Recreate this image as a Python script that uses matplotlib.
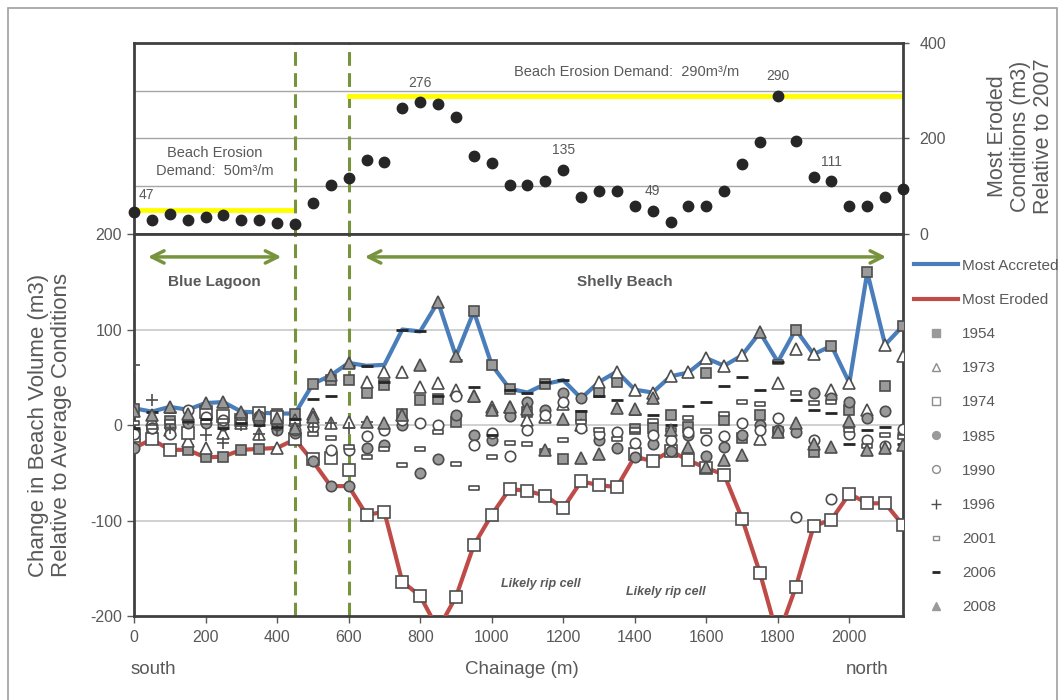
import numpy as np
import matplotlib
matplotlib.use("Agg")
import matplotlib.pyplot as plt
from matplotlib.path import Path
from matplotlib.lines import Line2D
from matplotlib.patches import Rectangle

plt.rcParams['font.family'] = ['Liberation Sans', 'DejaVu Sans']
plt.rcParams['axes.unicode_minus'] = False

# chainage stations (m), every 50 m from south to north
chainage = list(range(0, 2151, 50))

# top panel: most eroded conditions relative to 2007 (m3/m)
most_eroded_2007 = [47, 29, 41, 29, 36, 40, 29, 29, 24, 22,
                    64, 102, 117, 155, 150, 264, 276, 272, 244, 163,
                    148, 102, 102, 112, 135, 78, 90, 90, 59, 49,
                    26, 59, 59, 91, 146, 193, 290, 195, 120, 111,
                    59, 58, 78, 94]
label_points = [0, 800, 1200, 1450, 1800, 1950]
label_texts = ['47', '276', '135', '49', '290', '111']

# bottom panel: change relative to average conditions (m3/m)
most_accreted = [17.5, 14, 19, 16, 23, 24, 14, 13, 12, 12,
                 43, 52, 65, 62, 63, 100, 98, 129, 72, 119,
                 63, 38, 34, 43, 47, 28, 45, 56, 37, 34,
                 51, 55, 70, 62, 73, 97, 66, 100, 74, 83,
                 44, 160, 84, 104]
most_eroded = [-24, -15, -26, -26, -34, -33, -26, -25, -24, -15,
               -38, -64, -64, -94, -91, -164, -179, -214, -180, -126,
               -94, -67, -69, -74, -87, -59, -63, -65, -33, -38,
               -27, -37, -45, -52, -98, -155, -222, -170, -106, -99,
               -72, -82, -82, -105]

nan = np.nan
y1954 = [17, -5, 4, -26, -34, -33, -26, -25, 12, 12,
         43, 47, 47, 34, 42, 12, 26, 27, 3, 119,
         63, 38, 14, 43, -36, 9, 35, 45, -4, -3,
         10, -2, 54, 5, -14, 11, -7, 100, -28, 83,
         16, 160, 41, 104]
y1973 = [-9, 5, -5, -17, -24, -8, 2, -9, -24, 5,
         12, 2, 3, 45, 56, 55, 40, 44, 37, 30,
         19, 19, 5, 8, 22, 0, 45, 56, 37, 34,
         51, 55, 70, 62, 73, -15, 44, 80, 74, 37,
         44, 16, 84, 72]
y1974 = [-12, -15, -26, -8, 14, 9, 5, 13, 8, -15,
         -36, -35, -47, -94, -91, -164, -179, -214, -180, -126,
         -94, -67, -69, -74, -87, -59, -63, -65, -30, -38,
         -27, -37, -45, -52, -98, -155, -222, -170, -106, -99,
         -72, -82, -82, -105]
y1985 = [-24, -3, -2, 2, 2, 0, 9, 9, -5, -8,
         -38, -64, -64, -24, -21, 0, -50, -36, 10, -10,
         -16, 9, 24, 16, 33, 28, -16, -24, -33, -20,
         -27, -10, -32, -23, -10, 0, -5, -7, 34, 28,
         24, 7, 15, -8]
y1990 = [-9, -3, -9, 16, 8, 5, 9, 4, 0, -5,
         -2, -26, -26, -12, -5, 5, 2, 0, 30, -21,
         -8, -32, -5, 11, 24, -3, -9, -7, -19, -10,
         -16, -7, -16, -12, 2, -5, 7, -96, -16, -78,
         -9, -16, -22, -4]
y1996 = [63, 26, -3, 6, -10, -19, 0, -9, -4, 2,
         -2, 2, -3, 3, nan, nan, nan, nan, nan, nan,
         nan, nan, nan, nan, nan, nan, nan, nan, nan, nan,
         nan, nan, nan, nan, nan, nan, nan, nan, nan, nan,
         nan, nan, nan, nan]
y2001 = [2, -2, 3, 4, 3, 4, 3, 4, 2, 3,
         -9, -14, -23, -34, -25, -42, -25, -7, -41, -66,
         -33, -19, -20, -27, -16, 3, -5, -15, -5, 4,
         -5, 7, -6, 12, 24, 22, 66, 33, 23, 24,
         -5, -22, -10, -13]
y2006 = [-3, 14, 14, 4, 6, -3, 2, 0, -2, 6,
         27, 30, 62, 62, 45, 100, 98, 30, 68, 40,
         -10, 37, 34, 45, 47, 15, 30, 26, 12, 11,
         0, 20, 24, 41, 50, 37, 66, 26, 16, 13,
         -20, -5, -2, -20]
y2008 = [15, 10, 19, 12, 23, 24, 14, 10, 7, -3,
         8, 52, 65, 3, 2, 10, 63, 129, 72, 30,
         16, 19, 17, -26, 6, -35, -30, 18, 17, 28,
         -5, -23, -44, -37, -31, 97, -7, 2, -20, -23,
         4, -26, -24, -21]

years = ['1954', '1973', '1974', '1985', '1990', '1996', '2001', '2006', '2008']
year_values = [y1954, y1973, y1974, y1985, y1990, y1996, y2001, y2006, y2008]

# styling
GREY_TXT = '#595959'
EDGE = '#4d4d4d'
FILL = '#9a9a9a'
OLIVE = '#77933C'
BLUE = '#4A7EBB'
RED = '#BE4B48'
slab = Path([(-1, -0.45), (1, -0.45), (1, 0.45), (-1, 0.45), (-1, -0.45)],
            [Path.MOVETO, Path.LINETO, Path.LINETO, Path.LINETO, Path.CLOSEPOLY])
year_style = {
    '1954': dict(marker='s', ms=7.5, mfc=FILL, mec=EDGE),
    '1973': dict(marker='^', ms=8, mfc='white', mec=EDGE),
    '1974': dict(marker='s', ms=8, mfc='white', mec=EDGE),
    '1985': dict(marker='o', ms=7.5, mfc=FILL, mec=EDGE),
    '1990': dict(marker='o', ms=7.5, mfc='white', mec=EDGE),
    '1996': dict(marker='+', ms=9, mec=EDGE),
    '2001': dict(marker=slab, ms=6.5, mfc='white', mec=EDGE),
    '2006': dict(marker='_', ms=8, mec='#262626', mew=2),
    '2008': dict(marker='^', ms=8, mfc=FILL, mec=EDGE),
}

fig = plt.figure(figsize=(10.62, 7.0), dpi=100)
fig.patches.append(Rectangle((8 / 1062, -0.01), 1049 / 1062, 1.0 - 8 / 700 + 0.01,
                             transform=fig.transFigure, fill=False,
                             edgecolor='#a0a0a0', lw=1.2))

ax_top = fig.add_axes([0.1262, 0.6657, 0.7241, 0.2729])
ax_bot = fig.add_axes([0.1262, 0.12, 0.7241, 0.5457])

for ax in (ax_top, ax_bot):
    ax.set_xlim(0, 2150)
    for s in ax.spines.values():
        s.set_color('#404040')
        s.set_linewidth(2)
    for xv in (450, 600):
        ax.axvline(xv, color=OLIVE, lw=2.2, ls=(0, (4.5, 2.4)), zorder=1)

# ---- top panel
ax_top.set_ylim(0, 400)
for g in (100, 200, 300):
    ax_top.axhline(g, color='#a6a6a6', lw=1, zorder=0)
ax_top.set_xticks([])
ax_top.yaxis.tick_right()
ax_top.set_yticks([0, 200, 400])
ax_top.tick_params(axis='y', colors=GREY_TXT, labelsize=11.5, length=4, width=1, pad=8)
ax_top.plot([0, 440], [50, 50], color='#FFFF00', lw=3.5, zorder=2)
ax_top.plot([600, 2150], [290, 290], color='#FFFF00', lw=3.5, zorder=2)
ax_top.plot(chainage, most_eroded_2007, 'o', color='#262626', ms=7.5, zorder=4, clip_on=False)
for cx, t in zip(label_points, label_texts):
    yv = most_eroded_2007[chainage.index(cx)]
    offset = (9, 12) if cx == 0 else (0, 14)
    ax_top.annotate(t, (cx, yv), xytext=offset, textcoords='offset points',
                    ha='center', va='center', color=GREY_TXT, fontsize=10)
ax_top.text(226, 151, 'Beach Erosion\nDemand:  50m\u00b3/m', ha='center', va='center',
            color=GREY_TXT, fontsize=10.5, linespacing=1.3)
ax_top.text(1378, 339, 'Beach Erosion Demand:  290m\u00b3/m', ha='center', va='center',
            color=GREY_TXT, fontsize=10.5)

# ---- bottom panel
ax_bot.set_ylim(-200, 200)
for g in (-100, 0, 100):
    ax_bot.axhline(g, color='#c8c8c8', lw=1.2, zorder=0)
ax_bot.set_yticks([-200, -100, 0, 100, 200])
ax_bot.set_xticks(range(0, 2001, 200))
ax_bot.tick_params(colors=GREY_TXT, labelsize=11.5, length=5, width=1)
ax_bot.tick_params(axis='x', pad=5)

ax_bot.plot(chainage, most_accreted, color=BLUE, lw=3, zorder=3)
ax_bot.plot(chainage, most_eroded, color=RED, lw=3, zorder=3)
for yr, vals in zip(years, year_values):
    st = dict(year_style[yr])
    st.setdefault('mew', 1.2)
    ax_bot.plot(chainage, vals, ls='none', zorder=4, **st)

arrow = dict(arrowstyle='<->', color=OLIVE, lw=2.5, mutation_scale=22, shrinkA=0, shrinkB=0)
ax_bot.annotate('', xy=(412, 176), xytext=(39, 176), arrowprops=arrow)
ax_bot.annotate('', xy=(2103, 176), xytext=(645, 176), arrowprops=arrow)
ax_bot.text(225, 150, 'Blue Lagoon', ha='center', va='center', color=GREY_TXT,
            fontsize=11, fontweight='bold')
ax_bot.text(1372, 150, 'Shelly Beach', ha='center', va='center', color=GREY_TXT,
            fontsize=11, fontweight='bold')
ax_bot.text(1138, -167, 'Likely rip cell', ha='center', va='center', color=GREY_TXT,
            fontsize=9, fontweight='bold', style='italic')
ax_bot.text(1487, -175, 'Likely rip cell', ha='center', va='center', color=GREY_TXT,
            fontsize=9, fontweight='bold', style='italic')

# legend
handles = [Line2D([], [], color=BLUE, lw=3, label='Most Accreted'),
           Line2D([], [], color=RED, lw=3, label='Most Eroded')]
for yr in years:
    st = dict(year_style[yr])
    st['ms'] = st['ms'] * 0.75
    st.setdefault('mew', 1.0)
    if yr in ('1973', '1974', '1990', '2001'):
        st['mec'] = '#8c8c8c'
    if yr in ('1954', '1985', '2008'):
        st['mec'] = FILL
    handles.append(Line2D([], [], ls='none', label=yr, **st))
fig.legend(handles=handles, loc='upper left', bbox_to_anchor=(0.855, 0.639),
           frameon=False, fontsize=11, labelspacing=1.32, handlelength=2.9,
           handletextpad=0.25, labelcolor=GREY_TXT, borderaxespad=0)

# axis titles
fig.text(0.047, 1 - 425 / 700, 'Change in Beach Volume (m3)\nRelative to Average Conditions',
         rotation=90, ha='center', va='center', color=GREY_TXT, fontsize=16, linespacing=1.1)
fig.text(0.961, 1 - 136 / 700, 'Most Eroded\nConditions (m3)\nRelative to 2007',
         rotation=90, ha='center', va='center', color=GREY_TXT, fontsize=15.5, linespacing=1.1)
fig.text(131 / 1062, 1 - 670 / 700, 'south', ha='left', va='center', color=GREY_TXT, fontsize=13.5)
fig.text(522 / 1062, 1 - 670 / 700, 'Chainage (m)', ha='center', va='center', color=GREY_TXT, fontsize=13.5)
fig.text(846 / 1062, 1 - 670 / 700, 'north', ha='left', va='center', color=GREY_TXT, fontsize=13.5)

fig.savefig('out.png', dpi=100)
